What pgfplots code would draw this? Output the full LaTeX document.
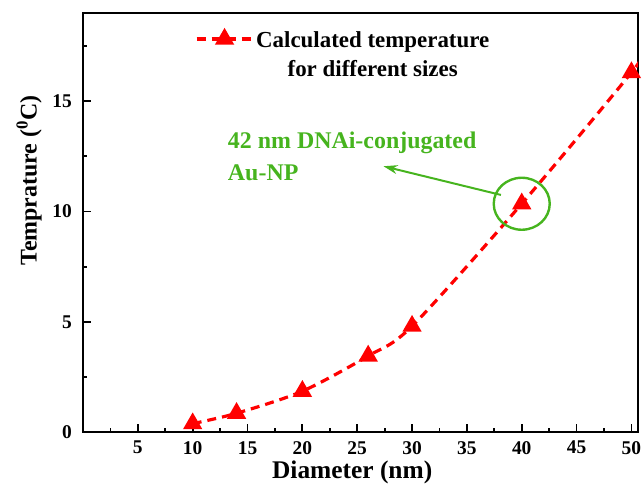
\documentclass[border=0pt]{standalone}
\usepackage{pgfplots}
\pgfplotsset{compat=1.18}
\usepackage{fontspec}
\setmainfont{Liberation Serif}
\usetikzlibrary{arrows.meta}
\definecolor{ared}{RGB}{255,0,0}
\definecolor{agreen}{RGB}{70,180,30}
\begin{document}
\begin{tikzpicture}
\begin{axis}[
  name=ax,
  scale only axis,
  width=555bp, height=419bp,
  xmin=0, xmax=50.6, ymin=0, ymax=19,
  axis line style={line width=2.2pt},
  xtick={5,10,...,50},
  ytick={0,5,10,15},
  minor xtick={2.5,7.5,...,47.5},
  minor ytick={2.5,7.5,12.5,17.5},
  tick align=inside,
  major tick length=8bp, minor tick length=4bp,
  tick style={line width=1.8pt, black},
  xtick pos=bottom, ytick pos=left,
  /pgf/number format/assume math mode=true,
  ticklabel style={font=\fontsize{19.5}{22}\selectfont\bfseries, inner sep=0pt},
  xticklabel style={yshift=-9bp},
  yticklabel style={xshift=-11bp},
  xlabel={Diameter (nm)},
  ylabel={Temprature (\textsuperscript{0}C)},
  xlabel style={font=\fontsize{25.5}{30}\selectfont\bfseries, inner sep=0pt,
    at={(axis description cs:0.485,-0.1115)}, anchor=base},
  ylabel style={font=\fontsize{24}{28}\selectfont\bfseries,
    at={(axis description cs:-0.097,0.6)}, anchor=center},
  legend style={draw=none, fill=none, at={(0.196,0.972)}, anchor=north west,
    font=\fontsize{23}{27}\selectfont\bfseries, legend cell align=left},
  legend image code/.code={
    \draw[#1, mark indices={2}] plot coordinates {(0bp,0bp) (28bp,0bp) (56bp,0bp)};
  },
]
\addplot[color=ared, line width=3.2pt, dash pattern=on 9bp off 6bp, smooth,
  mark=triangle*, mark size=8bp, mark options={solid}, mark indices={1,2,3,4,5,6,7}]
  coordinates {(10,0.38) (14,0.85) (20,1.85) (26,3.45) (30,4.8) (40,10.35) (50,16.3) (50.6,16.9)};
\addlegendentry{\begin{tabular}[t]{@{}c@{}}Calculated temperature\\[2bp]for different sizes\end{tabular}}
\draw[agreen, line width=2.4pt] (axis cs:40,10.35) ellipse [x radius=28bp, y radius=26bp];
\draw[agreen, line width=2pt, -{Stealth[length=14bp, width=9bp]}] (axis cs:38.1,10.75) -- (axis cs:27.4,12.05);
\node[agreen, anchor=north west, align=left, font=\fontsize{24}{32}\selectfont\bfseries, inner sep=0pt]
  at (axis cs:13.2,13.6) {42 nm DNAi-conjugated\\Au-NP};
\end{axis}
\pgfresetboundingbox
\path ([shift={(-83bp,-53bp)}]ax.south west) rectangle ([shift={(4bp,13bp)}]ax.north east);
\end{tikzpicture}
\end{document}
